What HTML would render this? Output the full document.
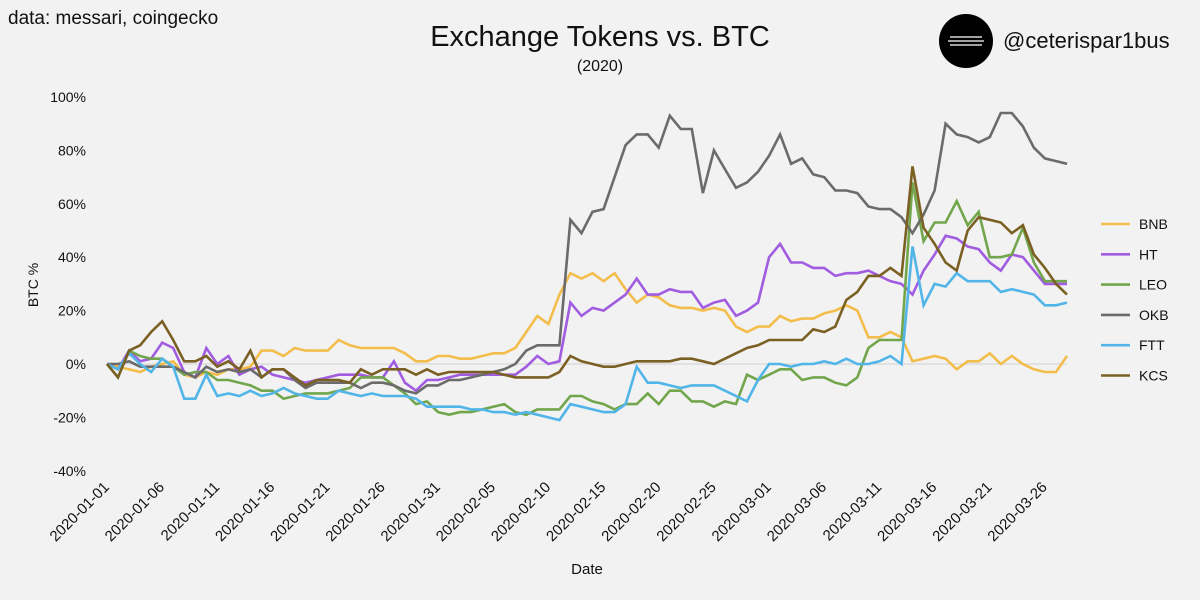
<!DOCTYPE html>
<html><head><meta charset="utf-8"><style>
html,body{margin:0;padding:0;background:#f2f2f2;}
svg{display:block;font-family:"Liberation Sans",sans-serif;}
</style></head><body>
<svg id="chart" width="1200" height="600" viewBox="0 0 1200 600">
<rect width="1200" height="600" fill="#f2f2f2"/>
<text x="8" y="24" font-size="19" fill="#111">data: messari, coingecko</text>
<text x="600" y="46" font-size="29" text-anchor="middle" fill="#111">Exchange Tokens vs. BTC</text>
<text x="600" y="71" font-size="16" text-anchor="middle" fill="#111">(2020)</text>
<g>
<circle cx="966" cy="41" r="27" fill="#000"/>
<line x1="950" y1="37" x2="982" y2="37" stroke="#fff" stroke-width="1.2"/>
<line x1="948" y1="41" x2="984" y2="41" stroke="#fff" stroke-width="1.2"/>
<line x1="950" y1="45" x2="982" y2="45" stroke="#fff" stroke-width="1.2"/>
</g>
<text x="1003" y="48" font-size="22" fill="#111">@ceterispar1bus</text>
<text transform="translate(38,285) rotate(-90)" font-size="14" text-anchor="middle" fill="#111">BTC %</text>
<text x="587" y="574" font-size="15" text-anchor="middle" fill="#111">Date</text>
<g id="yticks"></g><g id="xticks"></g><g id="series"></g><g id="legend"></g>
</svg>
<script>
const seriesNames = ["BNB","HT","LEO","OKB","FTT","KCS"];
const seriesColors = ["#f3bd4c","#a15ce0","#72a64c","#6b6b6b","#52b5e8","#7b6024"];
const yTickValues = [100,80,60,40,20,0,-20,-40];
const startDate = "2020-01-01";
const BNB = [0,-1,-2,-3,-1,0,1,-4,-5,-3,-4,-2,-2,-1,5,5,3,6,5,5,5,9,7,6,6,6,6,4,1,1,3,3,
 2,2,3,4,4,
 6,12,18,15,26,34,32,34,31,34,28,23,26,25,22,21,21,20,21,20,14,12,14,14,18,16,17,17,19,20,22,20,10,10,12,10,1,2,3,2,-2,1,1,4,0,3,0,-2,-3,-3,3];
const HT = [0,-2,5,1,2,8,6,-3,-5,6,0,3,-4,-2,-1,-4,-5,-6,-7,-6,-5,-4,-4,-4,-5,-5,1,-7,-10,-6,-6,-5,
 -4,-4,-4,-4,-4,
 -4,-1,3,0,1,23,18,21,20,23,26,32,26,26,28,27,27,21,23,24,18,20,23,40,45,38,38,36,36,33,34,34,35,33,31,30,26,35,41,48,47,44,43,38,35,41,40,35,30,30,30];
const LEO = [0,-5,5,3,2,2,-1,-4,-3,-3,-6,-6,-7,-8,-10,-10,-13,-12,-11,-11,-11,-10,-9,-5,-5,-5,-8,-11,-15,-14,-18,-19,
 -18,-18,-17,-16,-15,
 -18,-19,-17,-17,-17,-12,-12,-14,-15,-17,-15,-15,-11,-15,-10,-10,-14,-14,-16,-14,-15,-4,-6,-4,-2,-2,-6,-5,-5,-7,-8,-5,6,9,9,9,68,46,53,53,61,52,57,40,40,41,51,38,31,31,31];
const OKB = [0,0,1,-1,-1,-1,-1,-3,-5,-1,-3,-2,-3,-2,-5,-2,-2,-6,-9,-7,-7,-7,-7,-9,-7,-7,-8,-10,-11,-8,-8,-6,
 -6,-5,-4,-3,-2,
 0,5,7,7,7,54,49,57,58,70,82,86,86,81,93,88,88,64,80,73,66,68,72,78,86,75,77,71,70,65,65,64,59,58,58,55,49,56,65,90,86,85,83,85,94,94,89,81,77,76,75];
const FTT = [0,-2,4,0,-3,2,-1,-13,-13,-4,-12,-11,-12,-10,-12,-11,-9,-11,-12,-13,-13,-10,-11,-12,-11,-12,-12,-12,-13,-16,-16,-16,
 -16,-17,-17,-18,-18,
 -19,-18,-19,-20,-21,-15,-16,-17,-18,-18,-15,-1,-7,-7,-8,-9,-8,-8,-8,-10,-12,-14,-6,0,0,-1,0,0,1,0,2,0,0,1,3,0,44,22,30,29,34,31,31,31,27,28,27,26,22,22,23];
const KCS = [0,-5,5,7,12,16,9,1,1,3,-1,1,-2,5,-5,-2,-2,-5,-8,-6,-6,-6,-7,-2,-4,-2,-2,-2,-4,-2,-4,-3,
 -3,-3,-3,-3,-4,
 -5,-5,-5,-5,-3,3,1,0,-1,-1,0,1,1,1,1,2,2,1,0,2,4,6,7,9,9,9,9,13,12,14,24,27,33,33,36,33,74,51,45,38,35,50,55,54,53,49,52,41,36,30,26];
const seriesData = [BNB,HT,LEO,OKB,FTT,KCS];

const NS = "http://www.w3.org/2000/svg";
const X0 = 107, X1 = 1067, Y0 = 364, PXPER = 2.67;
const nPts = BNB.length;
function xScale(i){ return X0 + i*(X1-X0)/(nPts-1); }
function yScale(v){ return Y0 - v*PXPER; }
function mk(tag, attrs, parent){ const e=document.createElementNS(NS,tag); for(const k in attrs) e.setAttribute(k,attrs[k]); parent.appendChild(e); return e; }

const yg = document.getElementById('yticks');
yTickValues.forEach(v=>{
  const t = mk('text',{x:86,y:yScale(v)+5,'font-size':14,'text-anchor':'end',fill:'#111'},yg);
  t.textContent = v + '%';
  
  
});
const zl = mk('line',{x1:X0,x2:X1,y1:yScale(0),y2:yScale(0),stroke:'#d0d0d0','stroke-width':1},yg);



const xg = document.getElementById('xticks');
const sd = new Date(startDate + 'T00:00:00Z');
for(let i=0;i<nPts;i+=5){
  const d = new Date(sd.getTime() + i*86400000);
  const lbl = d.toISOString().slice(0,10);
  const x = xScale(i)+3, y = 488;
  const t = mk('text',{x:x,y:y,'font-size':15,'text-anchor':'end',fill:'#111',transform:`rotate(-45 ${x} ${y})`},xg);
  t.textContent = lbl;
  
  
}

const sg = document.getElementById('series');
seriesData.forEach((arr,si)=>{
  const pts = arr.map((v,i)=>xScale(i).toFixed(1)+','+yScale(v).toFixed(1)).join(' ');
  const p = mk('polyline',{points:pts,fill:'none',stroke:seriesColors[si],'stroke-width':2.6,'stroke-linejoin':'miter'},sg);
  
  
});

const lg = document.getElementById('legend');
seriesNames.forEach((n,i)=>{
  const y = 224 + i*30.3;
  const g = mk('g',{},lg);
  
  
  mk('line',{x1:1101,x2:1130,y1:y,y2:y,stroke:seriesColors[i],'stroke-width':2.6},g);
  const t = mk('text',{x:1139,y:y+5,'font-size':14,fill:'#111'},g);
  t.textContent = n;
});
</script>
</body></html>
